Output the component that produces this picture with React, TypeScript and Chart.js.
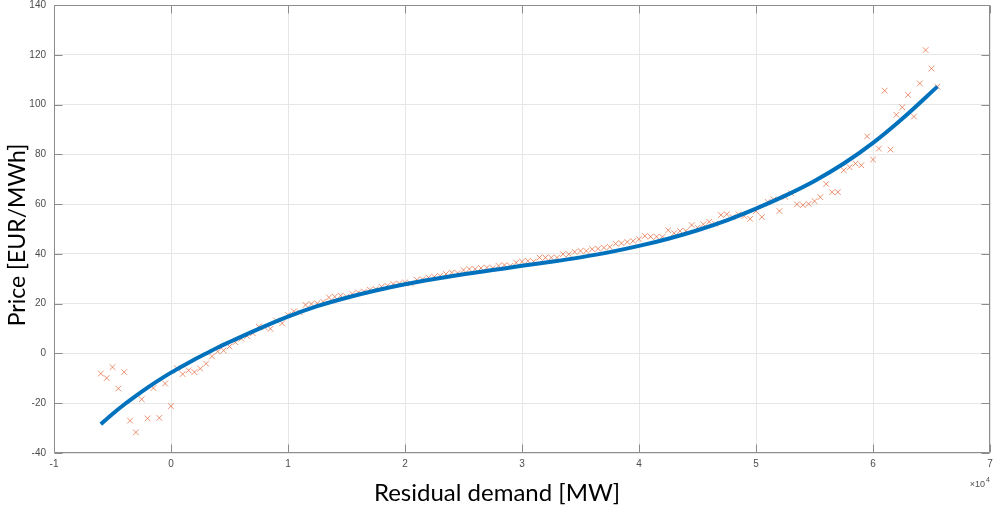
import { useEffect, useRef } from 'react';
import { Chart, registerables } from 'chart.js';

Chart.register(...registerables);

// Residual demand (MW) of each observed point
const demandMW = [
  -6000, -5500, -5000, -4500, -4000, -3500, -3000, -2500, -2000, -1500, -1000, -500,
  0, 500, 1000, 1500, 2000, 2500, 3000, 3500, 4000, 4500, 5000, 5500,
  6000, 6500, 7000, 7500, 8000, 8500, 9000, 9500, 10000, 10500, 11000, 11500,
  12000, 12500, 13000, 13500, 14000, 14500, 15000, 15500, 16000, 16500, 17000, 17500,
  18000, 18500, 19000, 19500, 20000, 20500, 21000, 21500, 22000, 22500, 23000, 23500,
  24000, 24500, 25000, 25500, 26000, 26500, 27000, 27500, 28000, 28500, 29000, 29500,
  30000, 30500, 31000, 31500, 32000, 32500, 33000, 33500, 34000, 34500, 35000, 35500,
  36000, 36500, 37000, 37500, 38000, 38500, 39000, 39500, 40000, 40500, 41000, 41500,
  42000, 42500, 43000, 43500, 44000, 44500, 45000, 45500, 46000, 46500, 47000, 47500,
  48000, 48500, 49000, 49500, 50000, 50500, 51000, 51500, 52000, 52500, 53000, 53500,
  54000, 54500, 55000, 55500, 56000, 56500, 57000, 57500, 58000, 58500, 59000, 59500,
  60000, 60500, 61000, 61500, 62000, 62500, 63000, 63500, 64000, 64500, 65000, 65500,
];

// Observed price (EUR/MWh)
const priceObserved = [
  -8.1, -9.9, -5.5, -14.1, -7.5, -27.0, -31.7, -18.4, -26.1, -13.9, -25.9, -12.1,
  -21.2, -5.9, -8.3, -6.8, -7.5, -6.1, -4.1, -1.2, 0.8, 1.2, 2.8, 4.5,
  5.9, 7.0, 8.1, 10.8, 10.5, 9.9, 13.2, 12.1, 15.5, 16.9, 16.5, 19.5,
  19.9, 20.1, 20.8, 22.5, 22.8, 23.2, 22.8, 23.9, 24.5, 24.9, 25.6, 25.9,
  26.8, 27.2, 27.9, 28.1, 28.5, 28.1, 29.6, 29.8, 30.5, 30.8, 31.2, 31.9,
  32.5, 32.3, 33.5, 33.9, 33.9, 34.3, 34.5, 34.3, 35.2, 35.5, 35.2, 36.5,
  36.9, 37.2, 36.9, 38.5, 38.5, 38.5, 38.5, 39.9, 39.9, 40.8, 41.2, 41.2,
  41.9, 42.1, 42.5, 42.8, 44.1, 44.3, 44.8, 45.2, 45.9, 47.2, 46.9, 46.9,
  46.8, 49.5, 48.3, 49.2, 49.2, 51.6, 50.5, 51.9, 52.9, 52.1, 55.6, 55.9,
  54.8, 55.9, 55.2, 54.1, 57.2, 54.8, 60.9, 61.9, 57.2, 62.9, 64.4, 59.9,
  59.6, 60.1, 61.2, 62.8, 68.1, 64.8, 64.8, 73.6, 74.8, 76.3, 75.6, 87.2,
  77.9, 82.3, 105.6, 81.9, 95.9, 98.9, 103.9, 95.2, 108.5, 121.9, 114.5, 107.2,
];

// Fitted curve
const fitDemandMW = [
  -6000, -5000, -4000, -3000, -2000, -1000, 0, 1000, 2000, 3000, 4000, 5000,
  7500, 10000, 12500, 15000, 17500, 20000, 22500, 25000, 27500, 30000, 32500, 35000,
  37500, 40000, 42500, 45000, 47500, 50000, 52500, 55000, 57500, 60000, 62500, 65500,
];
const fitPrice = [
  -28.4, -24.3, -20.5, -17.0, -13.7, -10.6, -7.7, -5.0, -2.4, 0.0, 2.4, 4.6,
  9.9, 14.8, 19.0, 22.4, 25.3, 27.8, 29.9, 31.8, 33.5, 35.2, 36.8, 38.6,
  40.7, 43.2, 46.1, 49.5, 53.5, 58.2, 63.4, 69.3, 76.3, 84.6, 94.3, 107.2,
];

const xTicks = [-10000, 0, 10000, 20000, 30000, 40000, 50000, 60000, 70000];
const yTicks = [-40, -20, 0, 20, 40, 60, 80, 100, 120, 140];

const xTitle = 'Residual demand [MW]';
const yTitle = 'Price [EUR/MWh]';
const exponentBase = '×10';
const exponentPower = '4';

const FRAME = '#8c8c8c';
const TICK_TEXT = '#4d4d4d';
const TICK_FONT = "'Liberation Sans', Arial, sans-serif";

const framePlugin = {
  id: 'matlabFrame',
  afterDatasetsDraw(chart: any) {
    const { ctx, chartArea: a, scales } = chart;
    ctx.save();
    ctx.strokeStyle = FRAME;
    ctx.lineWidth = 1;
    const l = Math.round(a.left) + 0.5;
    const r = Math.round(a.right) - 0.5;
    const t = Math.round(a.top) + 0.5;
    const b = Math.round(a.bottom) - 0.5;
    ctx.beginPath();
    ctx.rect(l, t, r - l, b - t);
    const L = 8;
    for (const v of xTicks) {
      const px = Math.round(scales.x.getPixelForValue(v)) + 0.5;
      ctx.moveTo(px, b);
      ctx.lineTo(px, b - L);
      ctx.moveTo(px, t);
      ctx.lineTo(px, t + L);
    }
    for (const v of yTicks) {
      const py = Math.round(scales.y.getPixelForValue(v)) + 0.5;
      ctx.moveTo(l, py);
      ctx.lineTo(l + L, py);
      ctx.moveTo(r, py);
      ctx.lineTo(r - L, py);
    }
    ctx.stroke();

    // axis titles
    ctx.fillStyle = '#000';
    ctx.textAlign = 'center';
    ctx.textBaseline = 'middle';
    ctx.font = "24px Lato, 'Open Sans', sans-serif";
    ctx.fillText(xTitle, 497, 493);
    ctx.save();
    ctx.translate(18, 235);
    ctx.rotate(-Math.PI / 2);
    ctx.font = "23px Lato, 'Open Sans', sans-serif";
    ctx.fillText(yTitle, 0, 0);
    ctx.restore();

    // exponent label
    ctx.fillStyle = TICK_TEXT;
    ctx.textAlign = 'right';
    ctx.textBaseline = 'alphabetic';
    ctx.font = `9px ${TICK_FONT}`;
    ctx.fillText(exponentBase, 985, 487);
    ctx.textAlign = 'left';
    ctx.font = `7px ${TICK_FONT}`;
    ctx.fillText(exponentPower, 986, 482);
    ctx.restore();
  },
};

export default function App() {
  const ref = useRef<HTMLCanvasElement | null>(null);

  useEffect(() => {
    if (!ref.current) return;
    const chart = new Chart(ref.current, {
      type: 'scatter',
      data: {
        datasets: [
          {
            label: 'Fit',
            data: fitDemandMW.map((x, i) => ({ x, y: fitPrice[i] })),
            showLine: true,
            borderColor: '#0072BD',
            borderWidth: 4,
            pointRadius: 0,
            cubicInterpolationMode: 'monotone',
            order: 0,
          } as any,
          {
            label: 'Observed',
            data: demandMW.map((x, i) => ({ x, y: priceObserved[i] })),
            showLine: false,
            pointStyle: 'crossRot',
            pointRadius: 4,
            borderWidth: 1,
            borderColor: 'rgba(225, 100, 55, 0.7)',
            backgroundColor: 'rgba(225, 100, 55, 0.7)',
            order: 1,
          } as any,
        ],
      },
      options: {
        responsive: false,
        animation: false,
        devicePixelRatio: 1,
        layout: { padding: { left: 0, top: 3, right: 4, bottom: 0 } },
        plugins: { legend: { display: false }, tooltip: { enabled: false } },
        scales: {
          x: {
            type: 'linear',
            min: -10000,
            max: 70000,
            afterBuildTicks: (s: any) => {
              s.ticks = xTicks.map((v) => ({ value: v }));
            },
            afterFit: (s: any) => {
              s.height = 60;
              s.paddingLeft = 0;
              s.paddingRight = 0;
            },
            ticks: {
              callback: (v: any) => String(Number(v) / 10000),
              color: TICK_TEXT,
              font: { family: TICK_FONT, size: 10 },
              padding: 5,
              maxRotation: 0,
            },
            grid: { color: '#e6e6e6', drawTicks: false },
            border: { display: false },
          },
          y: {
            type: 'linear',
            min: -40,
            max: 140,
            afterBuildTicks: (s: any) => {
              s.ticks = yTicks.map((v) => ({ value: v }));
            },
            afterFit: (s: any) => {
              s.width = 54;
              s.paddingTop = 0;
              s.paddingBottom = 0;
            },
            ticks: {
              color: TICK_TEXT,
              font: { family: TICK_FONT, size: 10 },
              padding: 8,
            },
            grid: { color: '#e6e6e6', drawTicks: false },
            border: { display: false },
          },
        },
      },
      plugins: [framePlugin],
    });
    return () => chart.destroy();
  }, []);

  return (
    <div style={{ position: 'fixed', left: 0, top: 0, width: 995, height: 513, background: '#fff' }}>
      <canvas ref={ref} width={995} height={513} style={{ width: 995, height: 513, display: 'block' }} />
    </div>
  );
}
